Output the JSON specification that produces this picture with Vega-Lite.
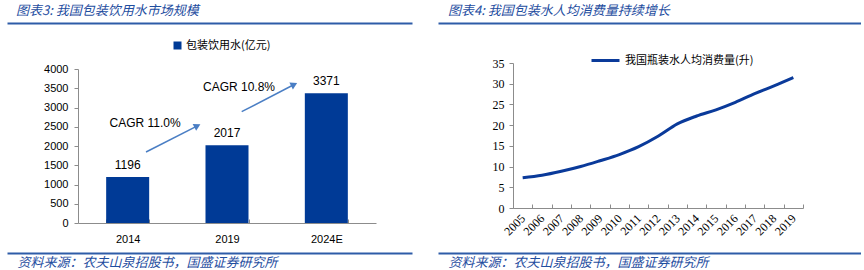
{
  "$schema": "https://vega.github.io/schema/vega-lite/v6.json",
  "padding": {"left": 7, "top": 5, "right": 0, "bottom": 0},
  "spacing": 21,
  "background": "white",
  "resolve": {"scale": {"color": "independent"}, "legend": {"color": "independent"}},
  "config": {
    "view": {"stroke": null},
    "font": "Liberation Sans",
    "axis": {"grid": false, "domainColor": "#8C8C8C", "tickColor": "#8C8C8C", "labelColor": "#000000", "titleColor": "#000000"}
  },
  "hconcat": [
    {
      "width": 405,
      "height": 230,
      "title": {"text": "图表3: 我国包装饮用水市场规模", "anchor": "start", "frame": "group", "dx": 9, "offset": 5, "font": "Noto Sans CJK SC", "fontSize": 13, "fontStyle": "italic", "fontWeight": "normal", "color": "#1F4E9F"},
      "resolve": {"scale": {"x": "independent"}, "axis": {"x": "independent"}},
      "layer": [
        {
          "data": {"values": [
            {"year": "2014", "value": 1196},
            {"year": "2019", "value": 2017},
            {"year": "2024E", "value": 3371}
          ]},
          "layer": [
            {
              "mark": {"type": "bar"},
              "encoding": {
                "x": {"field": "year", "type": "ordinal", "sort": null,
                  "scale": {"type": "band", "range": [71, 369], "paddingInner": 0.567, "paddingOuter": 0.2835},
                  "axis": {"title": null, "orient": "bottom", "offset": -30, "labelAngle": 0, "tickBand": "extent", "tickSize": -4, "labelPadding": 14, "labelFontSize": 11, "labelFont": "Liberation Sans"}},
                "y": {"field": "value", "type": "quantitative",
                  "scale": {"domain": [0, 4000], "range": [200, 46], "nice": false},
                  "axis": {"title": null, "orient": "left", "offset": -71, "values": [0, 500, 1000, 1500, 2000, 2500, 3000, 3500, 4000], "format": "d", "tickSize": 4, "labelPadding": 6, "labelFontSize": 11, "labelFont": "Liberation Sans"}},
                "color": {"datum": "包装饮用水(亿元)", "type": "nominal", "scale": {"range": ["#003A96"]},
                  "legend": {"title": null, "orient": "none", "legendX": 165, "legendY": 17, "padding": 0, "symbolType": "square", "symbolSize": 64, "labelFont": "Noto Sans CJK SC", "labelFontSize": 11, "labelOffset": 3, "labelColor": "#000000"}}
              }
            },
            {
              "mark": {"type": "text", "baseline": "bottom", "dy": -5, "fontSize": 12, "font": "Liberation Sans", "color": "#000000"},
              "encoding": {
                "x": {"field": "year", "type": "ordinal", "sort": null},
                "y": {"field": "value", "type": "quantitative",
                  "axis": {"title": null, "orient": "left", "offset": -71, "values": [0, 500, 1000, 1500, 2000, 2500, 3000, 3500, 4000], "format": "d", "tickSize": 4, "labelPadding": 6, "labelFontSize": 11, "labelFont": "Liberation Sans"}},
                "text": {"field": "value", "type": "quantitative", "format": "d"}
              }
            }
          ]
        },
        {
          "data": {"values": [
            {"label": "CAGR 11.0%", "x1": 0.685, "y1": 1844, "x2": 1.202, "y2": 2524, "tx": 0.675, "ty": 2597},
            {"label": "CAGR 10.8%", "x1": 1.648, "y1": 2891, "x2": 2.176, "y2": 3597, "tx": 1.621, "ty": 3532}
          ]},
          "layer": [
            {
              "mark": {"type": "rule", "color": "#4A7EC4", "strokeWidth": 1.5},
              "encoding": {
                "x": {"field": "x1", "type": "quantitative",
                  "scale": {"domain": [-0.7148, 3.3626], "nice": false, "zero": false},
                  "axis": {"orient": "top", "offset": 0, "domain": true, "domainColor": "#2E5CA8", "domainWidth": 2, "ticks": false, "labels": false, "title": null}},
                "x2": {"field": "x2"},
                "y": {"field": "y1", "type": "quantitative",
                  "axis": {"title": null, "orient": "left", "offset": -71, "values": [0, 500, 1000, 1500, 2000, 2500, 3000, 3500, 4000], "format": "d", "tickSize": 4, "labelPadding": 6, "labelFontSize": 11, "labelFont": "Liberation Sans"}},
                "y2": {"field": "y2"}
              }
            },
            {
              "mark": {"type": "point", "shape": "triangle-right", "filled": true, "color": "#4A7EC4", "size": 60, "angle": -27, "opacity": 1},
              "encoding": {
                "x": {"field": "x2", "type": "quantitative"},
                "y": {"field": "y2", "type": "quantitative",
                  "axis": {"title": null, "orient": "left", "offset": -71, "values": [0, 500, 1000, 1500, 2000, 2500, 3000, 3500, 4000], "format": "d", "tickSize": 4, "labelPadding": 6, "labelFontSize": 11, "labelFont": "Liberation Sans"}}
              }
            },
            {
              "mark": {"type": "text", "fontSize": 12, "font": "Liberation Sans", "color": "#000000"},
              "encoding": {
                "x": {"field": "tx", "type": "quantitative"},
                "y": {"field": "ty", "type": "quantitative",
                  "axis": {"title": null, "orient": "left", "offset": -71, "values": [0, 500, 1000, 1500, 2000, 2500, 3000, 3500, 4000], "format": "d", "tickSize": 4, "labelPadding": 6, "labelFontSize": 11, "labelFont": "Liberation Sans"}},
                "text": {"field": "label"}
              }
            }
          ]
        },
        {
          "data": {"values": []},
          "mark": "point",
          "encoding": {
            "x": {"field": "f", "type": "quantitative", "scale": {"domain": [0, 1]},
              "axis": {"orient": "bottom", "offset": 0, "domain": true, "domainColor": "#2E5CA8", "domainWidth": 2, "ticks": false, "labels": false,
                "title": "资料来源：农夫山泉招股书，国盛证券研究所", "titleX": 10, "titleY": 9, "titleAlign": "left", "titleAnchor": "start", "titleBaseline": "middle",
                "titleFont": "Noto Sans CJK SC", "titleFontSize": 13, "titleFontStyle": "italic", "titleFontWeight": "normal", "titleColor": "#1F4E9F"}}
          }
        }
      ]
    },
    {
      "width": 423,
      "height": 230,
      "title": {"text": "图表4: 我国包装水人均消费量持续增长", "anchor": "start", "frame": "group", "dx": 10, "offset": 5, "font": "Noto Sans CJK SC", "fontSize": 13, "fontStyle": "italic", "fontWeight": "normal", "color": "#1F4E9F"},
      "resolve": {"scale": {"x": "independent"}, "axis": {"x": "independent"}},
      "layer": [
        {
          "data": {"values": [
            {"year": "2005", "v": 7.3},
            {"year": "2006", "v": 7.9},
            {"year": "2007", "v": 8.85},
            {"year": "2008", "v": 10.0},
            {"year": "2009", "v": 11.4},
            {"year": "2010", "v": 12.9},
            {"year": "2011", "v": 14.8},
            {"year": "2012", "v": 17.3},
            {"year": "2013", "v": 20.3},
            {"year": "2014", "v": 22.2},
            {"year": "2015", "v": 23.7},
            {"year": "2016", "v": 25.5},
            {"year": "2017", "v": 27.6},
            {"year": "2018", "v": 29.5},
            {"year": "2019", "v": 31.5}
          ]},
          "mark": {"type": "line", "interpolate": "monotone", "strokeWidth": 3},
          "encoding": {
            "x": {"field": "year", "type": "ordinal", "bandPosition": 0.5,
              "scale": {"type": "band", "range": [75, 365], "paddingInner": 0, "paddingOuter": 0},
              "axis": {"title": null, "orient": "bottom", "offset": -45, "labelAngle": -45, "labelAlign": "right", "labelBaseline": "middle", "tickBand": "extent", "tickSize": -4, "labelPadding": 12, "labelFontSize": 12, "labelFont": "Liberation Serif"}},
            "y": {"field": "v", "type": "quantitative",
              "scale": {"domain": [0, 35], "range": [185, 40], "nice": false},
              "axis": {"title": null, "orient": "left", "offset": -75, "values": [0, 5, 10, 15, 20, 25, 30, 35], "tickSize": 4, "labelPadding": 5, "labelFontSize": 12, "labelFont": "Liberation Serif"}},
            "color": {"datum": "我国瓶装水人均消费量(升)", "type": "nominal", "scale": {"range": ["#0A3A9A"]},
              "legend": {"title": null, "orient": "none", "legendX": 152, "legendY": 22, "padding": 0, "symbolType": "stroke", "symbolSize": 784, "symbolStrokeWidth": 3, "labelFont": "Noto Sans CJK SC", "labelFontSize": 11, "labelOffset": 4, "labelColor": "#000000"}}
          }
        },
        {
          "data": {"values": []},
          "mark": "point",
          "encoding": {
            "x": {"field": "h", "type": "quantitative", "scale": {"domain": [0, 1]},
              "axis": {"orient": "top", "offset": 0, "domain": true, "domainColor": "#2E5CA8", "domainWidth": 2, "ticks": false, "labels": false, "title": null}}
          }
        },
        {
          "data": {"values": []},
          "mark": "point",
          "encoding": {
            "x": {"field": "f", "type": "quantitative", "scale": {"domain": [0, 1]},
              "axis": {"orient": "bottom", "offset": 0, "domain": true, "domainColor": "#2E5CA8", "domainWidth": 2, "ticks": false, "labels": false,
                "title": "资料来源：农夫山泉招股书，国盛证券研究所", "titleX": 10, "titleY": 9, "titleAlign": "left", "titleAnchor": "start", "titleBaseline": "middle",
                "titleFont": "Noto Sans CJK SC", "titleFontSize": 13, "titleFontStyle": "italic", "titleFontWeight": "normal", "titleColor": "#1F4E9F"}}
          }
        }
      ]
    }
  ]
}
